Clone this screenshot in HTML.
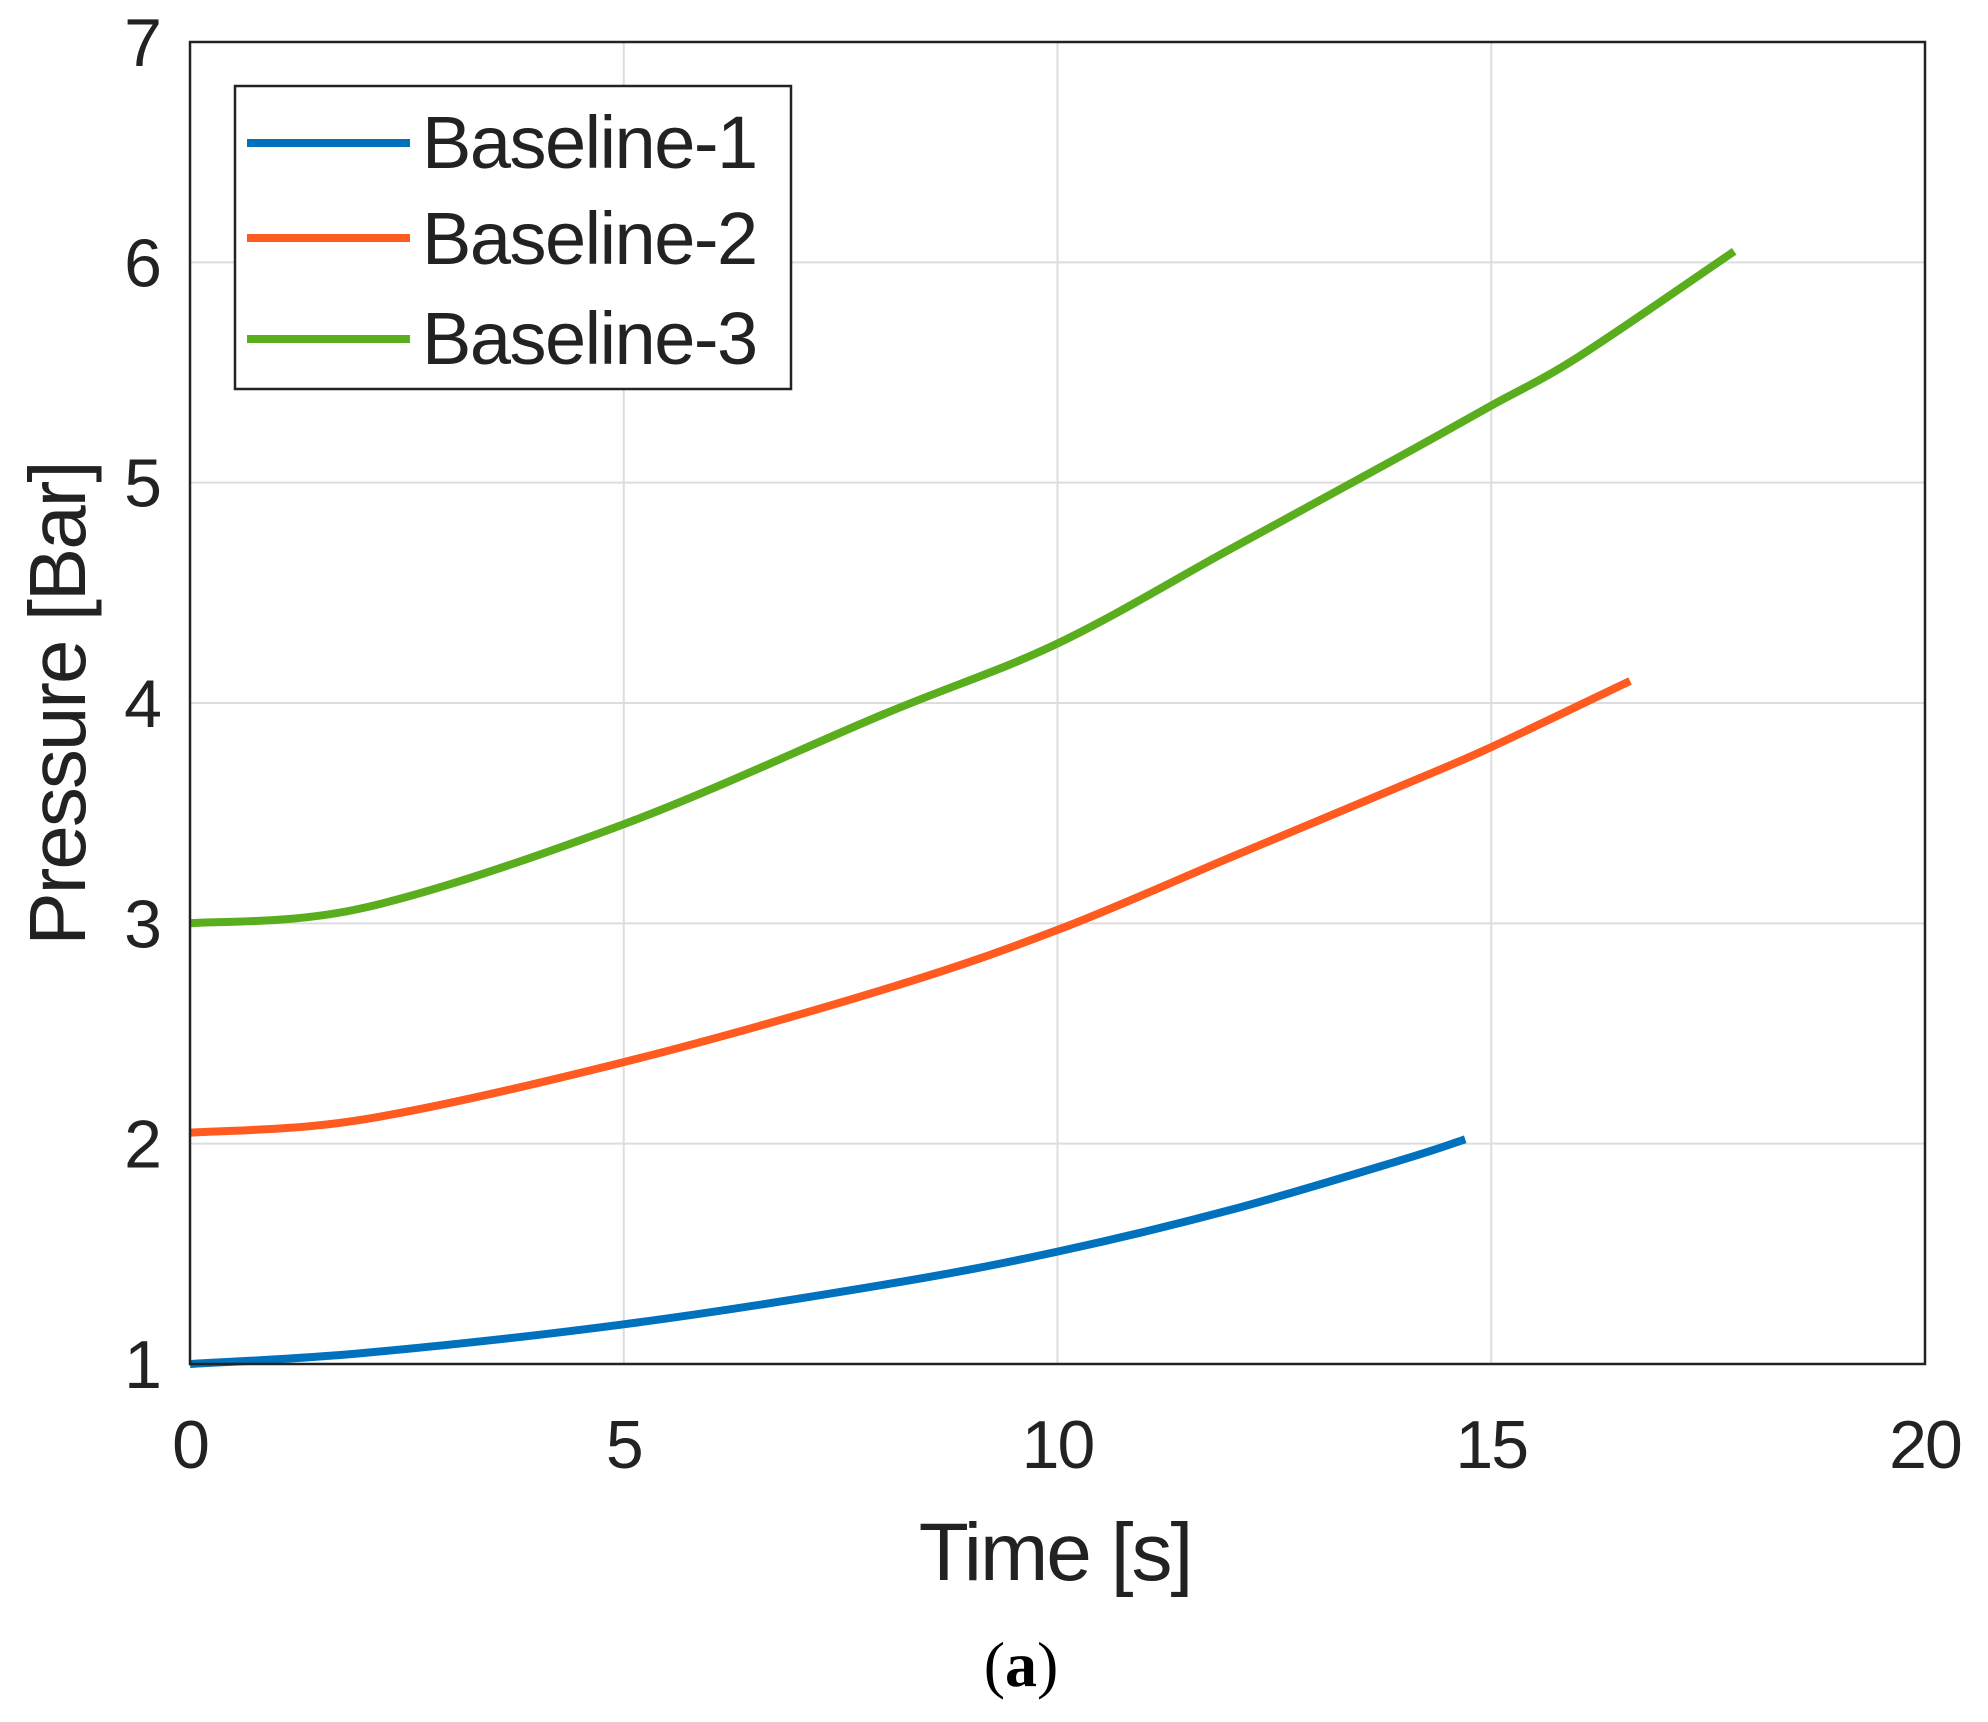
<!DOCTYPE html>
<html><head><meta charset="utf-8"><style>
body{margin:0;background:#fff}
svg{display:block;font-family:"Liberation Sans",Arial,sans-serif}
</style></head><body>
<svg id="chart" width="1988" height="1722" viewBox="0 0 1988 1722" xmlns="http://www.w3.org/2000/svg">
<g id="grid"></g>
<g id="series"></g>
<rect x="190" y="42" width="1735" height="1322" fill="none" stroke="#222" stroke-width="2.5"/>
<g id="ticks"></g>
<text x="1055" y="1580" font-size="82" text-anchor="middle" fill="#222" letter-spacing="-2">Time [s]</text>
<text transform="translate(85,704) rotate(-90)" font-size="80" text-anchor="middle" fill="#222" letter-spacing="-2">Pressure [Bar]</text>
<g>
<rect x="235" y="86" width="556" height="303" fill="#fff" stroke="#222" stroke-width="2.5"/>
<line x1="247" y1="143" x2="410" y2="143" stroke="#0072BD" stroke-width="8"/>
<text x="422" y="168" font-size="74" fill="#222" letter-spacing="-1.5">Baseline-1</text>
<line x1="247" y1="238" x2="410" y2="238" stroke="#FF5A1F" stroke-width="8"/>
<text x="422" y="264" font-size="74" fill="#222" letter-spacing="-1.5">Baseline-2</text>
<line x1="247" y1="339" x2="410" y2="339" stroke="#5AAE1E" stroke-width="8"/>
<text x="422" y="364" font-size="74" fill="#222" letter-spacing="-1.5">Baseline-3</text>
</g>
<text x="1021" y="1686" font-size="64" font-family="Liberation Serif,serif" text-anchor="middle" fill="#000"><tspan>(</tspan><tspan font-weight="bold">a</tspan><tspan>)</tspan></text>
</svg>
<script>
const xTicks=[0,5,10,15,20];
const yTicks=[1,2,3,4,5,6,7];
const blueX=[0,2,5,8,10,12,14,14.7];
const blueY=[1.0,1.05,1.18,1.36,1.51,1.70,1.93,2.02];
const orangeX=[0,2,5,8,10,12,14,15,16.6];
const orangeY=[2.05,2.11,2.37,2.70,2.97,3.30,3.63,3.80,4.10];
const greenX=[0,2,5,8,10,12,14,15,16,17.8];
const greenY=[3.0,3.07,3.45,3.95,4.27,4.70,5.13,5.35,5.57,6.05];
const L=190,R=1925,T=42,B=1364;
const sx=v=>L+(v-0)/(20-0)*(R-L);
const sy=v=>B-(v-1)/(7-1)*(B-T);
const NS="http://www.w3.org/2000/svg";
const grid=document.getElementById('grid'),ticks=document.getElementById('ticks'),ser=document.getElementById('series');
function mk(tag,attrs,parent){const e=document.createElementNS(NS,tag);for(const k in attrs)e.setAttribute(k,attrs[k]);parent.appendChild(e);return e;}
xTicks.forEach(v=>{
 const g=mk('line',{x1:sx(v),x2:sx(v),y1:T,y2:B,stroke:'#ddd','stroke-width':2},grid);
 
 
 const t=mk('text',{x:sx(v),y:1468,'font-size':68,'text-anchor':'middle',fill:'#222','letter-spacing':-2},ticks);
 t.textContent=v;
 
 
});
yTicks.forEach(v=>{
 const g=mk('line',{x1:L,x2:R,y1:sy(v),y2:sy(v),stroke:'#ddd','stroke-width':2},grid);
 
 
 const t=mk('text',{x:162,y:sy(v)+24,'font-size':68,'text-anchor':'end',fill:'#222'},ticks);
 t.textContent=v;
 
 
});
function line(xs,ys,color,name){
 const P=xs.map((x,i)=>[sx(x),sy(ys[i])]);
 let d='M'+P[0][0].toFixed(1)+','+P[0][1].toFixed(1);
 for(let i=0;i<P.length-1;i++){
  const p0=P[Math.max(0,i-1)],p1=P[i],p2=P[i+1],p3=P[Math.min(P.length-1,i+2)];
  const c1=[p1[0]+(p2[0]-p0[0])/6,p1[1]+(p2[1]-p0[1])/6];
  const c2=[p2[0]-(p3[0]-p1[0])/6,p2[1]-(p3[1]-p1[1])/6];
  d+='C'+c1.map(n=>n.toFixed(1)).join(',')+' '+c2.map(n=>n.toFixed(1)).join(',')+' '+p2.map(n=>n.toFixed(1)).join(',');
 }
 const p=mk('path',{d:d,fill:'none',stroke:color,'stroke-width':8,'stroke-linejoin':'round'},ser);
 
 
}
line(blueX,blueY,'#0072BD','baseline-1-line');
line(orangeX,orangeY,'#FF5A1F','baseline-2-line');
line(greenX,greenY,'#5AAE1E','baseline-3-line');
</script>
</body></html>
